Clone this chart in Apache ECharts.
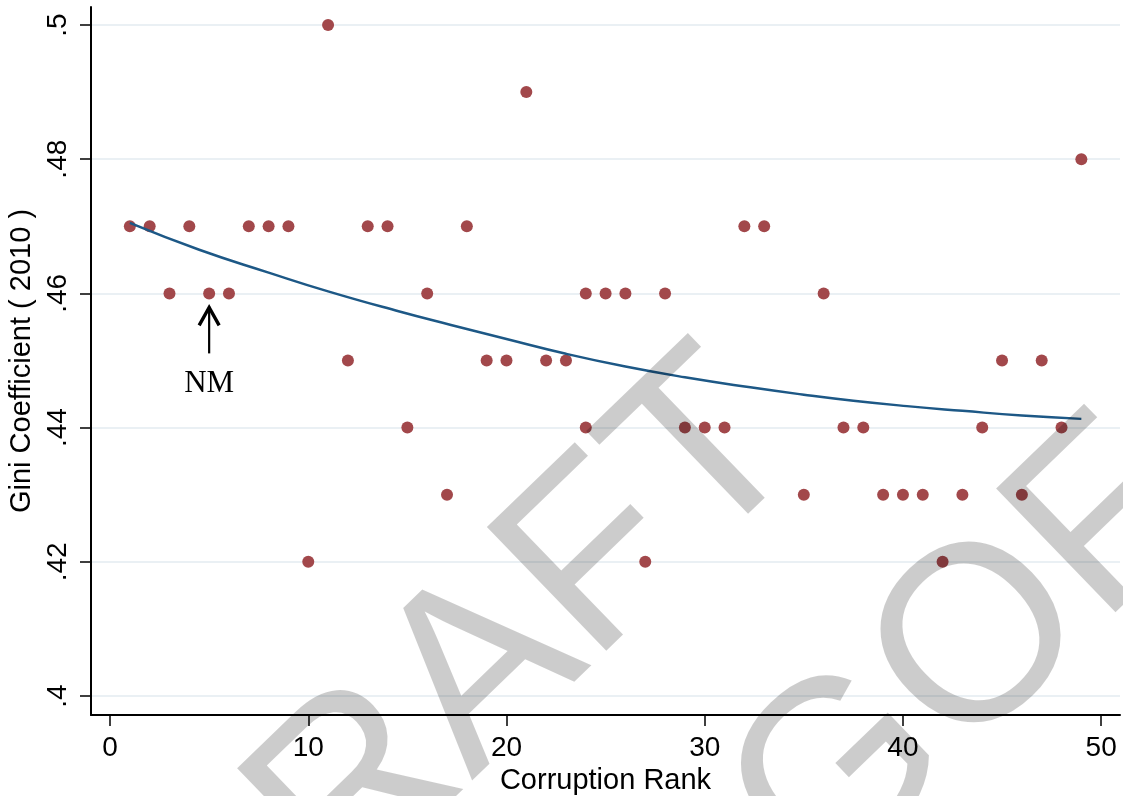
<!DOCTYPE html>
<html><head><meta charset="utf-8">
<script src="https://cdn.jsdelivr.net/npm/echarts@6/dist/echarts.min.js"></script>
<style>html,body{margin:0;padding:0;background:#fff}#c{width:1123px;height:796px}</style>
</head><body><div id="c"></div>
<script>
// Scatter data: corruption rank vs Gini coefficient (2010)
const rank = [1,2,3,4,5,6,7,8,9,10,11,12,13,14,15,16,17,18,19,20,21,22,23,24,24,25,26,27,28,29,30,31,32,33,35,36,37,38,39,40,41,42,43,44,45,46,47,48,49];
const gini = [.47,.47,.46,.47,.46,.46,.47,.47,.47,.42,.50,.45,.47,.47,.44,.46,.43,.47,.45,.45,.49,.45,.45,.46,.44,.46,.46,.42,.46,.44,.44,.44,.47,.47,.43,.46,.44,.44,.43,.43,.43,.42,.43,.44,.45,.43,.45,.44,.48];
// Fitted curve
const fitRank = [1, 4.5, 8, 11, 14.6, 17.2, 20, 23, 26, 29, 32.3, 35, 37.5, 40.2, 43, 46, 49];
const fitGini = [.4705, .4665, .4631, .4603, .4573, .4553, .4532, .4510, .4491, .4475, .4460, .4449, .4440, .4432, .4425, .4418, .4413];
// Axis ticks
const xTicks = [0, 10, 20, 30, 40, 50];
const yTicks = [0.4, 0.42, 0.44, 0.46, 0.48, 0.5];
// Annotation
const noteLabel = 'NM', noteRank = 5, noteGini = 0.46;

const FONT = '"Liberation Sans", Arial, Helvetica, sans-serif';
const chart = echarts.init(document.getElementById('c'), null, {renderer: 'canvas'});

const deg = 44, th = deg * Math.PI / 180;
const wmFill = 'rgba(0,0,0,0.2)';

chart.setOption({
  animation: false,
  backgroundColor: '#fff',
  grid: {left: 91, right: 3, top: 7, bottom: 81, containLabel: false, outerBoundsMode: 'none'},
  xAxis: {
    type: 'value', min: -0.96, max: 50.95,
    name: 'Corruption Rank', nameLocation: 'middle', nameGap: 49,
    nameTextStyle: {fontFamily: FONT, fontSize: 29, color: '#000'},
    axisLine: {show: true, onZero: false, lineStyle: {color: '#000', width: 2}},
    axisTick: {show: true, customValues: xTicks, length: 11, lineStyle: {color: '#000', width: 1.5}},
    axisLabel: {customValues: xTicks, fontFamily: FONT, fontSize: 28, color: '#000', margin: 19},
    splitLine: {show: false}
  },
  yAxis: {
    type: 'value', min: 0.39717, max: 0.50268,
    name: 'Gini Coefficient ( 2010 )', nameLocation: 'middle', nameGap: 52,
    nameTextStyle: {fontFamily: FONT, fontSize: 29, color: '#000'},
    axisLine: {show: true, onZero: false, lineStyle: {color: '#000', width: 2}},
    axisTick: {show: true, customValues: yTicks, length: 11, lineStyle: {color: '#000', width: 1.5}},
    axisLabel: {customValues: yTicks, rotate: 90, fontFamily: FONT, fontSize: 28, color: '#000', margin: 19,
      formatter: v => String(+v.toFixed(2)).replace(/^0/, '')},
    splitLine: {show: true, lineStyle: {color: '#eaf0f4', width: 2}}
  },
  series: [
    {type: 'scatter', data: rank.map((r, i) => [r, gini[i]]), symbolSize: 12,
     itemStyle: {color: '#a2484b', opacity: 1}, z: 3},
    {type: 'line', data: fitRank.map((r, i) => [r, fitGini[i]]), smooth: 0.5, showSymbol: false,
     lineStyle: {color: '#1d5886', width: 2.5}, z: 4}
  ]
});

const p = chart.convertToPixel({xAxisIndex: 0, yAxisIndex: 0}, [noteRank, noteGini]);
const tipY = p[1] + 12;
function wm(text, ax, ay) {
  return {type: 'text', x: ax, y: ay, rotation: th, z: 100, silent: true,
    style: {text: text, font: 'normal 250px ' + FONT, fill: wmFill, textAlign: 'left', textVerticalAlign: 'middle'}};
}
chart.setOption({
  graphic: [
    {type: 'line', shape: {x1: p[0], y1: tipY + 1, x2: p[0], y2: p[1] + 60}, style: {stroke: '#000', lineWidth: 2.2}, z: 50},
    {type: 'polyline', shape: {points: [[p[0] - 10, tipY + 20], [p[0], tipY + 2], [p[0] + 10, tipY + 20]]},
     style: {stroke: '#000', lineWidth: 3.4, fill: null, lineJoin: 'miter'}, z: 50},
    {type: 'text', x: p[0], y: p[1] + 90, z: 50,
     style: {text: noteLabel, font: 'normal 31px "Liberation Serif", "Times New Roman", serif', fill: '#000',
       textAlign: 'center', textVerticalAlign: 'middle'}},
    wm('DRAFT', 164, 982),
    wm('GOF', 773, 847)
  ]
});
</script></body></html>
